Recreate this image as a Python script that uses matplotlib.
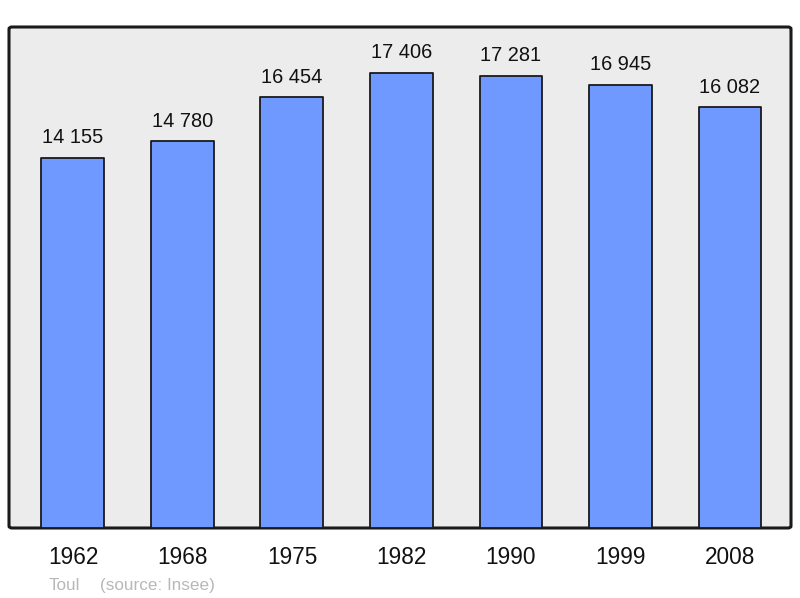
import matplotlib
matplotlib.use("Agg")
import matplotlib.pyplot as plt
from matplotlib.patches import FancyBboxPatch

years = ["1962", "1968", "1975", "1982", "1990", "1999", "2008"]
population = [14155, 14780, 16454, 17406, 17281, 16945, 16082]
value_labels = ["14 155", "14 780", "16 454", "17 406", "17 281", "16 945", "16 082"]
town = "Toul"
source = "(source: Insee)"

plt.rcParams['font.family'] = ['Liberation Sans', 'DejaVu Sans']

W, H = 800, 598
fig = plt.figure(figsize=(W / 100, H / 100), dpi=100)
ax = fig.add_axes([9 / W, 1 - 528 / H, 782 / W, 501 / H])
ax.set_facecolor('none')
for s in ax.spines.values():
    s.set_visible(False)

bg = FancyBboxPatch((0, 0), 1, 1, boxstyle="round,pad=0,rounding_size=0.004",
                    transform=ax.transAxes, facecolor='#ececec', edgecolor='#1a1a1a',
                    linewidth=2.2, zorder=0, clip_on=False)
ax.add_patch(bg)

x = list(range(len(years)))
bars = ax.bar(x, population, width=0.575, color='#7099ff', edgecolor='#1a1a1a',
              linewidth=1.3, zorder=2)
for b in bars:
    b.set_joinstyle('round')

ax.set_xlim(-0.584, 6.557)
ax.set_ylim(0, max(population) * 1.1)

for xi, v, lab in zip(x, population, value_labels):
    ax.annotate(lab, (xi, v), xytext=(0, 10.4), textcoords='offset points',
                ha='center', va='baseline', fontsize=14.4, color='#111111')

ax.set_xticks(x)
ax.set_xticklabels(years, fontsize=16.3)
ax.tick_params(axis='x', length=0, pad=13, colors='#111111')
ax.set_yticks([])

fig.text(49 / W, 1 - 590 / H, town, fontsize=12.3, color='#b8b8b8', va='baseline', ha='left')
fig.text(100 / W, 1 - 590 / H, source, fontsize=12.3, color='#b8b8b8', va='baseline', ha='left')

fig.savefig("out.png", dpi=100)
